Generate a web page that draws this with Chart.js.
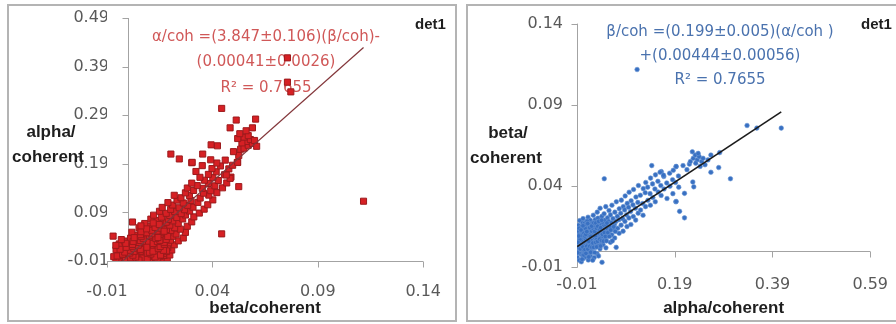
<!DOCTYPE html>
<html><head><meta charset="utf-8">
<script src="https://cdn.jsdelivr.net/npm/chart.js@4.4.1/dist/chart.umd.min.js"></script>
<style>
html,body{margin:0;padding:0;background:#fff;overflow:hidden;}
#wrap{position:relative;width:896px;height:324px;overflow:hidden;}
.panel{position:absolute;border:2px solid #b4b4b4;box-sizing:border-box;}
canvas{position:absolute;top:0;}
</style></head><body>
<div id="wrap">
<div class="panel" style="left:7px;top:4px;width:450px;height:318px;"></div>
<div class="panel" style="left:466px;top:4px;width:440px;height:318px;"></div>
<canvas id="c1" width="462" height="324" style="left:0"></canvas>
<canvas id="c2" width="434" height="324" style="left:462px"></canvas>
</div>
<script>
// ---- data: [alpha/coherent, beta/coherent] pairs ----
const coreAB = [
[-0.0092,-0.0041],[-0.0088,0.0032],[-0.0095,0.0088],
[-0.0071,0.0004],[-0.0066,0.0061],[-0.0074,0.0118],[-0.0069,0.0157],
[-0.0052,-0.0058],[-0.0047,0.0021],[-0.0055,0.0049],[-0.0049,0.0102],[-0.0043,0.0186],
[-0.0031,-0.0019],[-0.0027,0.0043],[-0.0034,0.0079],[-0.0025,0.0133],
[-0.0011,-0.0068],[-0.0006,0.0012],[-0.0014,0.0058],[-0.0008,0.0107],[-0.0013,0.0148],
[0.0012,-0.0028],[0.0007,0.0031],[0.0016,0.0069],[0.0009,0.0094],[0.0014,0.0171],
[0.0031,-0.0047],[0.0026,0.0003],[0.0034,0.0052],[0.0028,0.0083],[0.0036,0.0121],[0.0024,0.0198],
[0.0052,-0.0012],[0.0047,0.0024],[0.0055,0.0061],[0.0049,0.0099],[0.0057,0.0142],
[0.0072,-0.0037],[0.0066,0.0038],[0.0075,0.0072],[0.0069,0.0113],[0.0074,0.0158],
[0.0091,0.0008],[0.0086,0.0049],[0.0095,0.0091],[0.0088,0.0128],[0.0093,0.0182],
[0.0112,-0.0021],[0.0106,0.0033],[0.0115,0.0078],[0.0109,0.0104],[0.0117,0.0149],
[0.0131,-0.0057],[0.0127,0.0018],[0.0135,0.0063],[0.0128,0.0089],[0.0134,0.0122],[0.0126,0.0207],
[0.0152,0.0002],[0.0147,0.0041],[0.0155,0.0073],[0.0149,0.0108],[0.0156,0.0162],
[0.0171,-0.0031],[0.0166,0.0052],[0.0175,0.0081],[0.0169,0.0127],[0.0174,0.0188],
[0.0192,0.0019],[0.0187,0.0063],[0.0195,0.0098],[0.0189,0.0142],
[0.0211,-0.0009],[0.0206,0.0038],[0.0215,0.0092],[0.0208,0.0118],[0.0214,0.0171],
[0.0232,0.0029],[0.0227,0.0071],[0.0235,0.0112],[0.0229,0.0149],[0.0233,0.0219],
[0.0251,-0.0042],[0.0246,0.0053],[0.0255,0.0082],[0.0248,0.0131],
[0.0272,0.0021],[0.0266,0.0062],[0.0275,0.0103],[0.0269,0.0158],[0.0274,0.0192],
[0.0292,0.0043],[0.0287,0.0089],[0.0295,0.0121],[0.0288,0.0139],
[0.0311,-0.0018],[0.0306,0.0072],[0.0315,0.0109],[0.0309,0.0168],[0.0314,0.0238],
[0.0332,0.0031],[0.0327,0.0083],[0.0335,0.0128],[0.0328,0.0201],
[0.0352,0.0058],[0.0347,0.0102],[0.0355,0.0149],
[0.0371,0.0012],[0.0366,0.0091],[0.0375,0.0118],[0.0369,0.0179],[0.0373,0.0262],
[0.0392,0.0052],[0.0387,0.0108],[0.0395,0.0161],
[0.0412,-0.0071],[0.0406,0.0081],[0.0415,0.0139],[0.0409,0.0212],
[0.0432,0.0038],[0.0427,0.0122],[0.0435,0.0171],
[0.0452,0.0098],[0.0447,0.0152],[0.0455,0.0228],
[0.0472,0.0069],[0.0467,0.0131],[0.0475,0.0189],
[0.0492,0.0018],[0.0486,0.0112],[0.0495,0.0158],[0.0489,0.0272],
[0.0522,0.0091],[0.0516,0.0138],[0.0525,0.0203],
[0.0552,0.0119],[0.0547,0.0182],[0.0555,0.0248],
[0.0582,0.0052],[0.0576,0.0148],[0.0585,0.0221],
[0.0612,0.0098],[0.0606,0.0172],[0.0615,0.0281],
[0.0642,0.0131],[0.0637,0.0198],
[0.0672,0.0079],[0.0666,0.0162],[0.0675,0.0238],
[0.0702,0.0021],[0.0697,0.0181],[0.0705,0.0302],
[0.0732,0.0139],[0.0726,0.0212],
[0.0762,0.0108],[0.0756,0.0191],[0.0765,0.0259]
];
const denseAB = [
[0.0021,0.0061],[0.0043,0.0081],[0.0062,0.0052],[0.0081,0.0069],[0.0102,0.0058],[0.0123,0.0041],
[0.0142,0.0092],[0.0163,0.0071],[0.0184,0.0112],[0.0204,0.0061],[0.0222,0.0095],[0.0243,0.0109],
[0.0262,0.0082],[0.0283,0.0118],[0.0302,0.0092],[0.0322,0.0108],[0.0342,0.0128],[0.0018,0.0112],
[0.0038,0.0031],[0.0058,0.0118],[0.0078,0.0022],[0.0098,0.0141],[0.0118,0.0121],[0.0138,0.0028],
[0.0158,0.0131],[0.0178,0.0042],[0.0198,0.0121],[0.0218,0.0138],[0.0238,0.0049],[0.0258,0.0152],
[0.0278,0.0091],[0.0298,0.0068],[-0.0021,0.0092],[-0.0041,0.0071],[-0.0061,0.0031],[-0.0081,0.0052],
[0.0008,0.0128],[0.0029,0.0142],[0.0051,0.0168],[0.0068,0.0139],[0.0089,0.0162],[0.0109,0.0182]
];
const denseAB2 = [
[-0.0085,-0.0012],[-0.0078,0.0021],[-0.0063,0.0091],[-0.0058,0.0138],[-0.0036,0.0012],[-0.0019,0.0036],
[-0.0017,0.0128],[0.0004,-0.0052],[0.0019,0.0023],[0.0022,0.0154],[0.0041,-0.0026],[0.0044,0.0108],
[0.0063,0.0008],[0.0061,0.0091],[0.0083,-0.0016],[0.0079,0.0101],[0.0097,0.0028],[0.0101,0.0118],
[0.0121,0.0011],[0.0119,0.0168],[0.0141,-0.0038],[0.0139,0.0058],[0.0161,0.0027],[0.0162,0.0143],
[0.0181,-0.0009],[0.0183,0.0089],[0.0203,0.0021],[0.0199,0.0152],[0.0221,-0.0058],[0.0224,0.0048],
[0.0241,0.0021],[0.0244,0.0172],[0.0263,-0.0011],[0.0261,0.0119],[0.0281,0.0052],[0.0284,0.0171],
[0.0303,0.0024],[0.0301,0.0139],[0.0321,0.0058],[0.0324,0.0151],[0.0341,-0.0032],[0.0344,0.0181],
[0.0361,0.0072],[0.0363,0.0132],[0.0381,0.0029],[0.0384,0.0142],[0.0402,0.0062],[0.0404,0.0188],
[0.0421,0.0101],[0.0441,0.0059],[0.0461,0.0112],[0.0481,0.0088],[0.0503,0.0061],[0.0512,0.0171],
[0.0532,0.0112],[0.0561,0.0088],[0.0591,0.0128],[0.0623,0.0061],[0.0651,0.0148],[0.0683,0.0119]
];
const bandAB = [
[0.0802,0.0158],[0.0795,0.0231],[0.0808,0.0312],
[0.0843,0.0121],[0.0836,0.0198],[0.0847,0.0272],
[0.0881,0.0181],[0.0875,0.0252],[0.0886,0.0338],
[0.0923,0.0149],[0.0916,0.0221],[0.0928,0.0292],
[0.0962,0.0202],[0.0955,0.0268],[0.0967,0.0361],
[0.1003,0.0162],[0.0996,0.0242],[0.1008,0.0308],
[0.1052,0.0211],[0.1045,0.0283],[0.1057,0.0378],
[0.1101,0.0189],[0.1094,0.0262],[0.1106,0.0331],
[0.1152,0.0232],[0.1145,0.0298],[0.1157,0.0402],
[0.1201,0.0251],[0.1196,0.0342],
[0.1252,0.0219],[0.1245,0.0291],[0.1256,0.0383],
[0.1302,0.0272],[0.1296,0.0358],[0.1307,0.0421],
[0.1351,0.0311],[0.1346,0.0392],
[0.1402,0.0281],[0.1395,0.0352],[0.1406,0.0448],
[0.1452,0.0328],[0.1446,0.0412],
[0.1502,0.0302],[0.1495,0.0381],[0.1506,0.0468],
[0.1562,0.0362],[0.1556,0.0428],
[0.1622,0.0341],[0.1615,0.0402],[0.1626,0.0488],
[0.1682,0.0381],[0.1676,0.0458],
[0.1742,0.0322],[0.1736,0.0418],
[0.1802,0.0398],[0.1796,0.0478],
[0.1862,0.0352],[0.1856,0.0438],
[0.1922,0.0302],[0.1916,0.0421],[0.1926,0.0518],
[0.1982,0.0392],[0.1976,0.0461]
];
const upperAB = [
[0.1430,0.0525],[0.1600,0.0484],[0.1670,0.0466],[0.1870,0.0496],[0.1930,0.0520],[0.2070,0.0525],[0.2200,0.0534],
[0.2000,0.0243],[0.2100,0.0203],[0.1930,0.0304],[0.2100,0.0354],[0.2270,0.0424],[0.2290,0.0394],
[0.2150,0.0500],[0.2220,0.0550],[0.2280,0.0570],[0.2320,0.0590],[0.2360,0.0560],[0.2400,0.0580],
[0.2330,0.0540],[0.2450,0.0550],[0.2380,0.0600],[0.2260,0.0610],[0.2420,0.0520],[0.2480,0.0570],
[0.2520,0.0530],[0.2580,0.0560],
[0.2640,0.0484],[0.2800,0.0513],[0.2820,0.0605],[0.2640,0.0590],[0.3040,0.0444]
];
const outlierAB = [
[0.3380,0.0772],[0.3580,0.0756],[0.4080,0.0756],[0.1130,0.1117],[0.0458,0.0444]
];

// fits shown on the chart
const fitAlphaOnBeta = {slope: 3.847, intercept: -0.00041};
const fitBetaOnAlpha = {slope: 0.199, intercept: 0.00444};

// tick labels
const leftXTicks  = [-0.01, 0.04, 0.09, 0.14];
const leftYTicks  = [-0.01, 0.09, 0.19, 0.29, 0.39, 0.49];
const rightXTicks = [-0.01, 0.19, 0.39, 0.59];
const rightYTicks = [-0.01, 0.04, 0.09, 0.14];

const leftText  = ['α/coh =(3.847±0.106)(β/coh)-', '(0.00041±0.0026)', 'R² = 0.7655'];
const rightText = ['β/coh =(0.199±0.005)(α/coh )', '+(0.00444±0.00056)', 'R² = 0.7655'];

// ---------------------------------------------------------------
const allAB = [...coreAB, ...denseAB, ...denseAB2, ...bandAB, ...upperAB, ...outlierAB];
const alphas = allAB.map(p => p[0]), betas = allAB.map(p => p[1]);

Chart.defaults.font.family = 'DejaVu Sans';
const tickFont = {family: 'DejaVu Sans', size: 16};
const fmt = v => Number(v).toFixed(2);

function setTicks(list){ return s => { s.ticks = list.map(v => ({value: v})); }; }

function axesPlugin(o){
  return {
    id: 'axes_' + o.id,
    beforeDatasetsDraw(chart){
      const {ctx, chartArea: a, scales: {x, y}} = chart;
      ctx.save();
      ctx.strokeStyle = '#a3a3a3'; ctx.lineWidth = 1;
      const ax = Math.round(x.getPixelForValue(o.yAxisAt)) + 0.5;
      const ay = Math.round(y.getPixelForValue(o.xAxisAt)) + 0.5;
      ctx.beginPath();
      ctx.moveTo(ax, a.top); ctx.lineTo(ax, a.bottom + 0.5);
      y.ticks.forEach(t => { const py = Math.round(y.getPixelForValue(t.value)) + 0.5; ctx.moveTo(ax - 6, py); ctx.lineTo(ax, py); });
      ctx.moveTo(a.left, ay); ctx.lineTo(a.right, ay);
      x.ticks.forEach(t => { const px = Math.round(x.getPixelForValue(t.value)) + 0.5; ctx.moveTo(px, ay); ctx.lineTo(px, ay + 6); });
      ctx.stroke();
      // annotation
      ctx.fillStyle = o.noteColor; ctx.font = '15px "DejaVu Sans"';
      ctx.textAlign = 'center'; ctx.textBaseline = 'middle';
      o.note.forEach((t, i) => ctx.fillText(t, o.noteX, o.noteY + i * o.noteGap));
      // titles
      ctx.fillStyle = '#1e1e1e'; ctx.font = 'bold 17px "Liberation Sans"';
      ctx.fillText(o.xTitle, (a.left + a.right) / 2, 308);
      o.yTitle.forEach((t, i) => ctx.fillText(t, o.yTitleX[i], o.yTitleY + i * 25));
      ctx.font = 'bold 15px "Liberation Sans"'; ctx.textAlign = 'left';
      ctx.fillText('det1', o.detX, 25);
      ctx.restore();
    }
  };
}

function baseOptions(xMin, xMax, yMin, yMax, xt, yt, padR, xH, yW, xPad, yPad){
  return {
    responsive: false, animation: false, events: [],
    plugins: {legend: {display: false}, tooltip: {enabled: false}},
    layout: {padding: {left: 0, top: 18, right: padR, bottom: 0}},
    scales: {
      x: {type: 'linear', min: xMin, max: xMax, afterBuildTicks: setTicks(xt), afterFit: s => { s.height = xH; },
          grid: {display: false, drawTicks: false}, border: {display: false},
          ticks: {padding: xPad, color: '#595959', font: tickFont, maxRotation: 0, autoSkip: false, callback: fmt}},
      y: {type: 'linear', min: yMin, max: yMax, afterBuildTicks: setTicks(yt), afterFit: s => { s.width = yW; },
          grid: {display: false, drawTicks: false}, border: {display: false},
          ticks: {padding: yPad, color: '#595959', font: tickFont, autoSkip: false, callback: fmt}}
    }
  };
}

// left: alpha vs beta
const bMin = Math.min(...betas), bMax = Math.max(...betas);
new Chart(document.getElementById('c1'), {
  type: 'scatter',
  data: {datasets: [
    {type: 'line', data: [bMin, bMax].map(b => ({x: b, y: fitAlphaOnBeta.slope * b + fitAlphaOnBeta.intercept})),
     borderColor: '#83363a', borderWidth: 1.2, pointRadius: 0, fill: false, tension: 0},
    {data: allAB.map(p => ({x: p[1], y: p[0]})), pointStyle: 'rect', pointRadius: 4.3,
     backgroundColor: '#d62024', borderColor: '#9c1a1c', borderWidth: 1}
  ]},
  options: baseOptions(-0.01, 0.14, -0.01, 0.49, leftXTicks, leftYTicks, 37, 63, 107, 21, -2),
  plugins: [axesPlugin({id: 'l', yAxisAt: 0, xAxisAt: -0.01, note: leftText, noteColor: '#d05858',
    noteX: 266, noteY: 37, noteGap: 25.5, xTitle: 'beta/coherent', yTitle: ['alpha/', 'coherent'],
    yTitleX: [51, 48], yTitleY: 132, detX: 415})]
});

// right: beta vs alpha
const aMin = Math.min(...alphas), aMax = Math.max(...alphas);
new Chart(document.getElementById('c2'), {
  type: 'scatter',
  data: {datasets: [
    {type: 'line', data: [aMin, aMax].map(a => ({x: a, y: fitBetaOnAlpha.slope * a + fitBetaOnAlpha.intercept})),
     borderColor: '#1c1c1c', borderWidth: 1.6, pointRadius: 0, fill: false, tension: 0},
    {data: allAB.map(p => ({x: p[0], y: p[1]})), pointStyle: 'circle', pointRadius: 2.3,
     backgroundColor: '#3870c2', borderColor: '#6a96d4', borderWidth: 0.6}
  ]},
  options: baseOptions(-0.01, 0.59, -0.01, 0.14, rightXTicks, rightYTicks, 21, 57, 115, 8, 14),
  plugins: [axesPlugin({id: 'r', yAxisAt: -0.01, xAxisAt: 0, note: rightText, noteColor: '#4a72ae',
    noteX: 258, noteY: 32, noteGap: 24, xTitle: 'alpha/coherent', yTitle: ['beta/', 'coherent'],
    yTitleX: [46, 44], yTitleY: 133, detX: 399})]
});
</script>
</body></html>
